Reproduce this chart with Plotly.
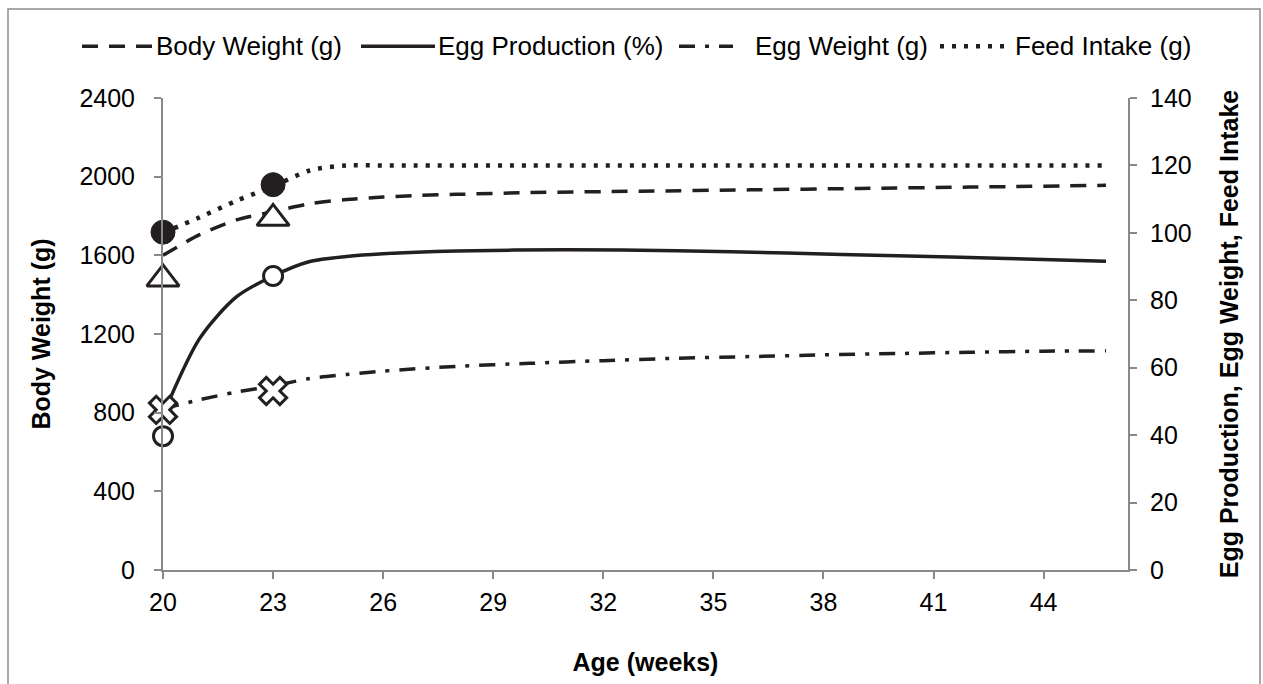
import plotly.graph_objects as go

# ---------------- data ----------------
series_names = ["Body Weight (g)", "Egg Production (%)", "Egg Weight (g)", "Feed Intake (g)"]

bw_weeks = [20, 21, 22, 23, 24, 25, 26, 27, 28, 30, 33, 36, 39, 42, 45.7]
body_weight = [1600, 1705, 1780, 1822, 1862, 1884, 1896, 1905, 1910, 1919, 1926, 1933, 1940, 1947, 1956]

ep_weeks = [20, 21, 22, 23, 24, 25, 26, 28, 31, 34, 37, 40, 43, 45.7]
egg_production = [46, 68.7, 81, 87.2, 91.5, 93.0, 93.8, 94.6, 95.0, 94.7, 94.0, 93.2, 92.4, 91.6]

ew_weeks = [20, 21, 22, 23, 24, 25, 26, 28, 30, 32, 34, 36, 38, 40, 42, 44, 45.7]
egg_weight = [47.8, 50.5, 52.8, 54.6, 56.8, 58.0, 59.0, 60.4, 61.3, 62.1, 62.8, 63.3, 63.8, 64.2, 64.6, 64.9, 65.0]

fi_weeks = [20, 21, 22, 23, 24, 25, 26, 30, 35, 40, 45.7]
feed_intake = [100, 104.6, 109.5, 113.8, 118.5, 120, 120, 120, 120, 120, 120]

# standard (marker) points
std_weeks = [20, 23]
std_body_weight = [1480, 1788]
std_egg_production = [39.7, 87.2]
std_egg_weight = [47.5, 53.1]
std_feed_intake = [100.2, 114.3]

x_ticks = [20, 23, 26, 29, 32, 35, 38, 41, 44]
left_ticks = [0, 400, 800, 1200, 1600, 2000, 2400]
right_ticks = [0, 20, 40, 60, 80, 100, 120, 140]

FONT = "Liberation Sans, Arial, sans-serif"
INK = "#231f20"
AXIS = "#898989"
TICK_SIZE = 25
LEG_SIZE = 26
TITLE_SIZE = 25

# plot-area geometry (pixels) used to place the hand-built legend
L, R, T, B = 163, 135, 98, 111
W, H = 1263, 684
PW, PH = W - L - R, H - T - B


def px_x(p):
    return (p - L) / PW


def px_y(p):
    return (H - B - p) / PH


line_styles = [
    dict(color=INK, width=3.5, dash="16px,11px"),
    dict(color=INK, width=3.5),
    dict(color=INK, width=3.5, dash="16px,10px,4px,10px"),
    dict(color=INK, width=4.5, dash="4px,8px"),
]

fig = go.Figure()

series = [(bw_weeks, body_weight, "y"), (ep_weeks, egg_production, "y2"),
          (ew_weeks, egg_weight, "y2"), (fi_weeks, feed_intake, "y2")]
for (xs, ys, ax), name, ls in zip(series, series_names, line_styles):
    fig.add_trace(go.Scatter(x=xs, y=ys, mode="lines", name=name, showlegend=False,
                             line=dict(shape="spline", smoothing=0.8, **ls), yaxis=ax))

# markers
fig.add_trace(go.Scatter(x=std_weeks, y=std_body_weight, mode="markers", showlegend=False, cliponaxis=False,
                         marker=dict(symbol="triangle-up", size=28, color="white",
                                     line=dict(color=INK, width=3)), yaxis="y"))
fig.add_trace(go.Scatter(x=std_weeks, y=std_egg_production, mode="markers", showlegend=False, cliponaxis=False,
                         marker=dict(symbol="circle", size=19, color="white",
                                     line=dict(color=INK, width=3)), yaxis="y2"))
fig.add_trace(go.Scatter(x=std_weeks, y=std_egg_weight, mode="markers", showlegend=False, cliponaxis=False,
                         marker=dict(symbol="x", size=24, color="white",
                                     line=dict(color=INK, width=3)), yaxis="y2"))
fig.add_trace(go.Scatter(x=std_weeks, y=std_feed_intake, mode="markers", showlegend=False, cliponaxis=False,
                         marker=dict(symbol="circle", size=24, color=INK,
                                     line=dict(color=INK, width=1)), yaxis="y2"))

# hand-built legend (sample line + text), laid out like the original
leg_y = 46
sample_spans = [(82, 153), (361, 435), (679, 733), (940, 1004)]
text_starts = [155, 437, 754, 1014]
shapes = [dict(type="rect", xref="paper", yref="paper",
               x0=px_x(8), x1=px_x(1260), y0=px_y(700), y1=px_y(8.5),
               line=dict(color="#8c8c8c", width=1.5), fillcolor="rgba(0,0,0,0)", layer="below")]
annotations = []
for (s0, s1), tx, name, ls in zip(sample_spans, text_starts, series_names, line_styles):
    shapes.append(dict(type="line", xref="paper", yref="paper",
                       x0=px_x(s0), x1=px_x(s1), y0=px_y(leg_y), y1=px_y(leg_y), line=ls))
    annotations.append(dict(xref="paper", yref="paper", x=px_x(tx), y=px_y(leg_y),
                            xanchor="left", yanchor="middle", showarrow=False, text=name,
                            font=dict(family=FONT, size=LEG_SIZE, color="black"), borderpad=0))

axis_common = dict(showgrid=False, zeroline=False, showline=True, linecolor=AXIS, linewidth=2,
                   ticks="outside", ticklen=7, tickcolor=AXIS, tickwidth=2,
                   tickfont=dict(family=FONT, size=TICK_SIZE, color="black"))

fig.update_layout(
    width=W, height=H,
    margin=dict(l=L, r=R, t=T, b=B),
    paper_bgcolor="white", plot_bgcolor="white",
    font=dict(family=FONT, size=TICK_SIZE, color="black"),
    showlegend=False,
    xaxis=dict(range=[20, 46.3], tickmode="array", tickvals=x_ticks, ticktext=[str(t) for t in x_ticks],
               ticklabelstandoff=2,
               title=dict(text="<b>Age (weeks)</b>", font=dict(family=FONT, size=TITLE_SIZE, color="black"),
                          standoff=38),
               **axis_common),
    yaxis=dict(range=[0, 2400], tickmode="array", tickvals=left_ticks, ticktext=[str(t) for t in left_ticks],
               ticklabelstandoff=14,
               title=dict(text="<b>Body Weight (g)</b>", font=dict(family=FONT, size=TITLE_SIZE, color="black"),
                          standoff=22),
               **axis_common),
    yaxis2=dict(range=[0, 140], tickmode="array", tickvals=right_ticks, ticktext=[str(t) for t in right_ticks],
                overlaying="y", side="right", anchor="x", ticklabelstandoff=8,
                title=dict(text="<b>Egg Production, Egg Weight, Feed Intake</b>",
                           font=dict(family=FONT, size=TITLE_SIZE, color="black"), standoff=30),
                **axis_common),
    shapes=shapes,
    annotations=annotations,
)

fig.write_html("out.html")
